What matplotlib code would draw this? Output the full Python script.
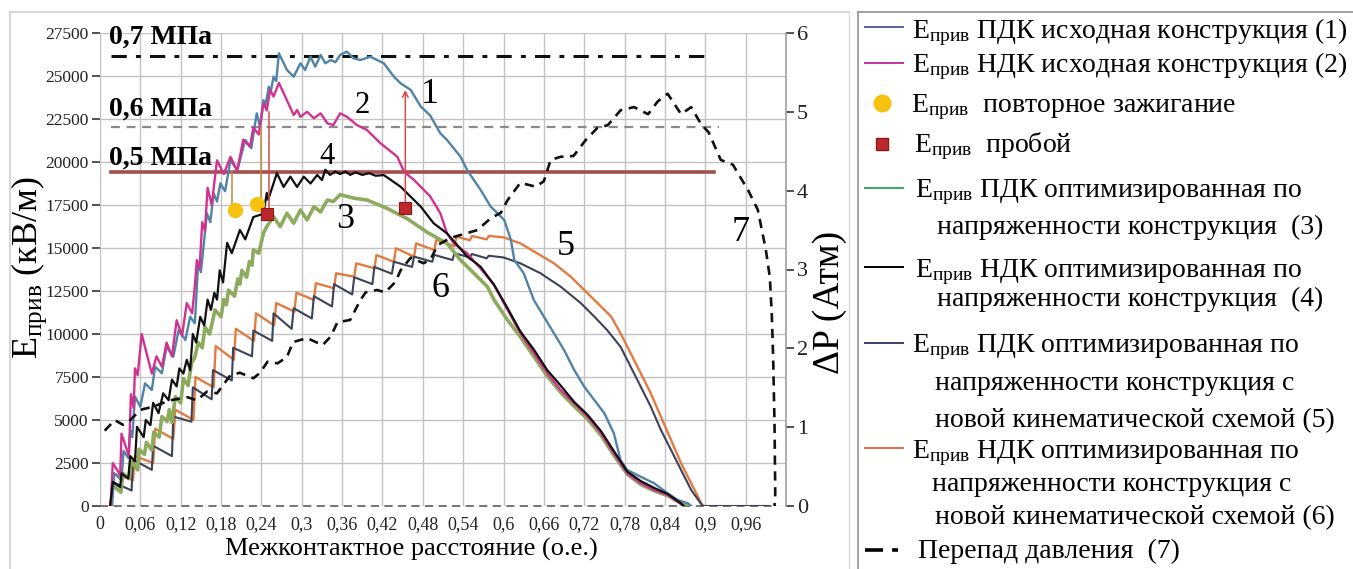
import matplotlib
matplotlib.use('Agg')
import matplotlib.pyplot as plt
from matplotlib.lines import Line2D

plt.rcParams['font.family'] = ['Liberation Serif', 'DejaVu Serif']
plt.rcParams['mathtext.fontset'] = 'custom'
plt.rcParams['mathtext.rm'] = 'Liberation Serif'
plt.rcParams['mathtext.it'] = 'Liberation Serif:italic'
plt.rcParams['mathtext.bf'] = 'Liberation Serif:bold'

# ---------------- data ----------------
x_ticks = [0, 0.06, 0.12, 0.18, 0.24, 0.30, 0.36, 0.42, 0.48, 0.54, 0.60, 0.66,
           0.72, 0.78, 0.84, 0.90, 0.96, 1.02]
x_tick_labels = ['0', '0,06', '0,12', '0,18', '0,24', '0,3', '0,36', '0,42', '0,48',
                 '0,54', '0,6', '0,66', '0,72', '0,78', '0,84', '0,9', '0,96', '']
y_ticks = [0, 2500, 5000, 7500, 10000, 12500, 15000, 17500, 20000, 22500, 25000, 27500]
y2_ticks = [0, 1, 2, 3, 4, 5, 6]

# (1) ПДК исходная
c1_x = [0.018,0.021,0.032,0.035,0.042,0.045,0.048,0.052,0.060,0.067,
        0.077,0.082,0.092,0.099,0.109,0.117,0.127,0.134,0.141,0.146,
        0.150,0.159,0.164,0.169,0.174,0.179,0.186,0.194,0.204,0.216,
        0.225,0.233,0.238,0.243,0.246,0.251,0.254,0.258,0.262,0.266,
        0.278,0.288,0.298,0.305,0.313,0.320,0.328,0.335,0.343,0.350,
        0.357,0.367,0.377,0.387,0.402,0.412,0.422,0.437,0.447,0.462,
        0.477,0.491,0.506,0.516,0.536,0.546,0.566,0.581,0.591,0.601,
        0.611,0.616,0.630,0.645,0.660,0.675,0.690,0.705,0.720,0.735,
        0.750,0.764,0.774,0.784,0.804,0.824,0.844,0.859,0.874,0.879]
c1_y = [0,1900,1500,3200,2800,4400,4000,6360,5770,7130,
        6740,8100,7720,9260,8680,10230,9650,11000,10620,14110,
        13600,17020,16500,18180,17700,18760,18300,20120,19500,21280,
        20800,22830,22050,23600,23300,24380,24100,24960,24700,26320,
        25350,24960,25740,25350,26120,25540,26220,25740,25930,25800,
        26220,26420,26030,25930,26120,25930,25740,24960,24570,24190,
        23220,22700,21670,21280,20310,19530,18370,17400,17020,16630,
        15470,14300,13530,11980,11010,10040,9070,7910,6940,6160,
        5390,4230,2670,2090,1700,1320,740,350,160,0]

# (2) НДК исходная
c2_x = [0.016,0.019,0.030,0.032,0.043,0.046,0.050,0.052,0.056,0.062,
        0.077,0.084,0.092,0.099,0.107,0.114,0.122,0.129,0.137,0.141,
        0.144,0.148,0.152,0.156,0.160,0.166,0.174,0.184,0.194,0.204,
        0.213,0.223,0.228,0.236,0.243,0.248,0.253,0.258,0.266,0.288,
        0.293,0.298,0.308,0.318,0.328,0.338,0.347,0.357,0.367,0.382,
        0.397,0.417,0.442,0.452,0.467,0.491,0.506,0.516,0.526,0.546,
        0.566,0.586,0.606,0.625,0.645,0.665,0.685,0.705,0.725,0.745,
        0.764,0.784,0.804,0.824,0.844,0.864,0.866]
c2_y = [0,2500,1800,4200,2900,6500,5700,8000,7600,10000,
        7700,8700,8100,9500,8700,10800,9900,11800,11200,12800,
        14300,13800,16500,16000,18500,17500,20100,19300,20300,19500,
        21300,20900,22000,21600,23400,23000,24200,23800,24600,22730,
        23020,22630,22920,22540,22830,22250,22150,22830,22630,22150,
        21860,21090,20310,19440,18950,18000,17020,15850,15270,14690,
        13800,12850,11400,10050,8900,7720,6740,5970,5190,4230,
        3060,1900,1320,930,640,120,0]

# (3) ПДК оптимизированная
c3_x = [0.016,0.019,0.031,0.034,0.043,0.046,0.056,0.058,0.066,0.069,
        0.077,0.080,0.088,0.092,0.100,0.103,0.107,0.112,0.120,0.124,
        0.131,0.136,0.141,0.146,0.152,0.156,0.163,0.171,0.180,0.184,
        0.188,0.191,0.200,0.205,0.208,0.211,0.218,0.222,0.226,0.228,
        0.236,0.243,0.248,0.258,0.268,0.278,0.288,0.298,0.308,0.318,
        0.328,0.338,0.347,0.357,0.367,0.377,0.397,0.427,0.457,0.487,
        0.516,0.536,0.556,0.576,0.586,0.606,0.625,0.645,0.665,0.685,
        0.705,0.725,0.745,0.764,0.784,0.804,0.824,0.844,0.864,0.874]
c3_y = [0,1200,800,1900,1600,2600,2100,3300,3000,3700,
        3250,4300,4000,5200,4900,5600,4850,6350,6000,7400,
        7000,8300,8650,9500,9200,10400,10000,11400,11000,12000,
        11700,12550,12200,13200,12900,13700,13300,14200,14000,14900,
        14700,15850,16250,16820,16240,17020,16440,17210,16630,17400,
        17100,17790,17700,18100,18000,17900,17790,17300,16700,15900,
        15270,14300,13530,12750,11980,10810,9840,8700,7550,6600,
        5800,5050,4100,2950,1850,1250,880,600,150,0]

# (4) НДК оптимизированная
c4_x = [0.015,0.019,0.030,0.032,0.042,0.045,0.052,0.055,0.065,0.068,
        0.075,0.079,0.087,0.094,0.102,0.107,0.114,0.118,0.124,0.129,
        0.134,0.138,0.143,0.149,0.155,0.160,0.165,0.170,0.174,0.178,
        0.183,0.189,0.196,0.208,0.216,0.228,0.236,0.243,0.248,0.250,
        0.263,0.273,0.283,0.293,0.303,0.313,0.323,0.330,0.335,0.342,
        0.350,0.357,0.365,0.372,0.380,0.390,0.400,0.410,0.422,0.447,
        0.477,0.496,0.516,0.546,0.566,0.586,0.606,0.625,0.645,0.665,
        0.685,0.705,0.725,0.745,0.764,0.784,0.804,0.824,0.844,0.864,0.868]
c4_y = [0,1400,1100,1900,1600,2900,2600,4600,4000,5000,
        4700,6000,5400,6550,6150,7350,6950,8000,7700,8500,
        7900,10000,9500,11000,10500,12000,11400,12400,12000,13700,
        13000,15300,14700,16050,15500,16800,16900,17000,18200,17800,
        19350,18550,19150,18550,19150,18750,19250,18950,19550,19250,
        19450,19300,19450,19250,19400,19250,19350,19200,19240,18560,
        17400,16440,15850,14500,13910,12850,11500,10150,9100,7900,
        7000,6050,5300,4350,3200,2000,1450,1050,700,150,0]

# (5) ПДК новая кинематика
c5_x = [0.016,0.019,0.047,0.049,0.077,0.079,0.107,0.109,0.136,0.138,
        0.166,0.168,0.196,0.198,0.226,0.228,0.256,0.258,0.285,0.288,
        0.315,0.318,0.345,0.348,0.375,0.378,0.405,0.408,0.434,0.437,
        0.464,0.467,0.494,0.497,0.524,0.527,0.550,0.553,0.575,0.578,
        0.600,0.625,0.655,0.685,0.715,0.735,0.754,0.774,0.789,0.804,
        0.819,0.834,0.849,0.864,0.879,0.896,0.995]
c5_y = [0,1400,900,2700,2100,3500,2900,5200,4900,6900,
        6200,7900,7300,9200,8700,10200,9600,11200,10300,11500,
        10900,12200,11600,12900,12300,13300,12900,13900,13500,14200,
        13900,14500,14200,14600,14300,14700,14450,14650,14400,14550,
        14450,14110,13530,12750,11790,11010,10230,9260,8100,6940,
        5770,4420,3260,2090,930,0,0]

# (6) НДК новая кинематика
c6_x = [0.016,0.019,0.049,0.052,0.079,0.082,0.109,0.112,0.139,0.142,
        0.169,0.172,0.199,0.202,0.229,0.232,0.259,0.262,0.289,0.292,
        0.318,0.321,0.348,0.351,0.378,0.381,0.408,0.411,0.437,0.440,
        0.467,0.470,0.497,0.500,0.527,0.530,0.550,0.553,0.575,0.578,
        0.600,0.625,0.650,0.675,0.700,0.720,0.740,0.760,0.774,0.789,
        0.804,0.819,0.834,0.849,0.864,0.879,0.894,0.897]
c6_y = [0,1900,1500,2900,2500,4500,3900,5600,5000,7500,
        6900,9300,8500,10300,9600,11200,10500,11800,11300,12400,
        11980,12950,12660,13530,13330,14110,13820,14590,14200,14980,
        14500,15270,14880,15470,15100,15660,15450,15700,15500,15700,
        15620,15270,14690,14110,13330,12560,11790,11010,10040,8880,
        7720,6550,5190,3840,2480,1320,160,0]

# (7) перепад давления, атм
c7_x = [0.007,0.022,0.034,0.045,0.060,0.079,0.104,0.130,0.144,0.159,
        0.174,0.194,0.208,0.228,0.238,0.249,0.264,0.278,0.287,0.308,
        0.331,0.343,0.353,0.372,0.387,0.395,0.412,0.424,0.439,0.447,
        0.462,0.481,0.491,0.502,0.521,0.541,0.561,0.581,0.596,0.606,
        0.625,0.648,0.660,0.670,0.685,0.704,0.722,0.740,0.755,0.774,
        0.794,0.815,0.829,0.844,0.864,0.879,0.894,0.905,0.923,0.941,
        0.964,0.978,0.990,0.996,0.999,1.001,1.003,1.004,1.003]
c7_y = [0.955,1.09,1.03,1.09,1.22,1.26,1.34,1.38,1.34,1.45,
        1.43,1.66,1.69,1.62,1.69,1.83,1.81,1.89,2.08,2.13,
        2.04,2.15,2.33,2.36,2.61,2.71,2.74,2.71,2.84,2.99,
        3.15,3.08,3.12,3.31,3.40,3.45,3.50,3.65,3.72,3.88,
        4.10,4.05,4.12,4.39,4.43,4.44,4.64,4.80,4.83,5.02,
        5.06,4.97,5.13,5.23,4.97,5.06,4.84,4.74,4.39,4.33,
        4.00,3.76,3.25,2.90,2.40,1.85,1.00,0.16,0.0]

zero_line_x = [0.0, 1.0]
zero_line_y = [0, 0]

ref_levels = [26150, 22050, 19400]
ref_x_start = [0.016, 0.016, 0.016]
ref_x_end = [0.905, 0.920, 0.913]
ref_texts = ['0,7 МПа', '0,6 МПа', '0,5 МПа']
ref_text_y = [27250, 23050, 20250]

reignite_x = [0.200, 0.233]
reignite_y = [17200, 17550]
breakdown_x = [0.248, 0.454]
breakdown_y = [16950, 17300]

conn_x = [0.197, 0.239, 0.251]
conn_y0 = [17300, 17550, 16950]
conn_y1 = [19450, 22100, 22900]
conn_colors = ['#b8893c', '#c08a34', '#d44a4a']
arrow_x = 0.454
arrow_y0 = 17300
arrow_y1 = 24350

curve_labels = ['1', '2', '3', '4', '5', '6', '7']
curve_label_x = [0.491, 0.390, 0.365, 0.338, 0.693, 0.506, 0.952]
curve_label_y = [23900, 23300, 16630, 20310, 15080, 12660, 15900]
curve_label_size = [26, 22, 26, 22, 26, 26, 26]

# ---------------- figure ----------------
W, H = 1353, 569
fig = plt.figure(figsize=(W / 100, H / 100), dpi=100)

# outer frame of the chart area
fig.add_artist(Line2D([10 / W, 849 / W], [1 - 12 / H, 1 - 12 / H], color='#cfcfcf', lw=1.2))
fig.add_artist(Line2D([10 / W, 10 / W], [0, 1 - 12 / H], color='#cfcfcf', lw=1.2))
fig.add_artist(Line2D([849 / W, 849 / W], [0, 1 - 12 / H], color='#dcdcdc', lw=1.0))

ax = fig.add_axes([100 / W, 63 / H, 686 / W, 473 / H])
ax.set_xlim(0, 1.02)
ax.set_ylim(0, 27500)
ax.set_xticks(x_ticks)
ax.set_xticklabels(x_tick_labels, fontsize=13)
ax.set_yticks(y_ticks)
ax.set_yticklabels([str(v) for v in y_ticks], fontsize=12.5)
ax.grid(True, color='#c2c2c2', lw=1.0)
ax.set_axisbelow(True)
for s in ax.spines.values():
    s.set_visible(False)
ax.tick_params(axis='x', length=0, pad=7, colors='#222')
ax.tick_params(axis='y', length=6, width=1.3, color='#444', pad=2, labelcolor='#222')

# reference pressure lines
ref_styles = [dict(color='#111111', lw=2.2, ls=(0, (5, 3, 1.6, 3))),
              dict(color='#8a8a8a', lw=1.6, ls=(0, (4, 3))),
              dict(color='#a24f4e', lw=2.6, ls='-')]
for lvl, xs, xe, st in zip(ref_levels, ref_x_start, ref_x_end, ref_styles):
    ax.plot([xs, xe], [lvl, lvl], zorder=2, **st)
for txt, ty in zip(ref_texts, ref_text_y):
    ax.text(0.013, ty, txt, fontsize=20, fontweight='bold', ha='left', va='center', zorder=6)

ax.plot(zero_line_x, zero_line_y, color='#6a6a6a', lw=1.3, ls=(0, (4.5, 3)), zorder=2, clip_on=False)

# curves
ax.plot(c6_x, c6_y, color='#e27b42', lw=1.7, zorder=3)
ax.plot(c5_x, c5_y, color='#3c4258', lw=1.5, zorder=3)
ax.plot(c3_x, c3_y, color='#8dab5c', lw=2.6, zorder=3)
ax.plot(c1_x, c1_y, color='#4f83a7', lw=1.7, zorder=3)
ax.plot(c2_x, c2_y, color='#d2328f', lw=1.7, zorder=3)
ax.plot(c4_x, c4_y, color='#101010', lw=1.6, zorder=3)

# connectors and arrow
for cx, a, b, col in zip(conn_x, conn_y0, conn_y1, conn_colors):
    ax.plot([cx, cx], [a, b], color=col, lw=1.1, zorder=4)
ax.annotate('', xy=(arrow_x, arrow_y1), xytext=(arrow_x, arrow_y0),
            arrowprops=dict(arrowstyle='->', color='#d44a4a', lw=1.1), zorder=4)

# markers
ax.plot(reignite_x, reignite_y, 'o', ms=11, color='#f6c20f', mec='none', zorder=5)
ax.plot(breakdown_x, breakdown_y, 's', ms=9, color='#c0272d', mec='#8a1a1a', mew=0.8, zorder=5)

for t, lx, ly, fs in zip(curve_labels, curve_label_x, curve_label_y, curve_label_size):
    ax.text(lx, ly, t, fontsize=fs, ha='center', va='center', zorder=6)

# right axis
ax2 = ax.twinx()
ax2.set_ylim(0, 6)
ax2.set_yticks(y2_ticks)
ax2.set_yticklabels([str(v) for v in y2_ticks], fontsize=16)
for k, s in ax2.spines.items():
    s.set_visible(k == 'right')
ax2.spines['right'].set_color('#a0a0a0')
ax2.spines['right'].set_linewidth(1.2)
ax2.tick_params(axis='y', length=6, width=1.3, color='#444', pad=2, labelcolor='#222')
ax2.plot(c7_x, c7_y, color='#111111', lw=1.9, ls=(0, (3.5, 2.5)), zorder=3)

# axis titles
fig.text(29 / W, 1 - 268 / H, r'$\mathrm{E}_{\mathrm{прив}}$ (кВ/м)', rotation=90,
         fontsize=26, ha='center', va='center')
fig.text(830 / W, 1 - 302 / H, 'ΔP (Атм)', rotation=90, fontsize=27, ha='center', va='center')
fig.text(411 / W, 1 - 549 / H, 'Межконтактное расстояние (о.е.)', fontsize=19,
         ha='center', va='center')

# ---------------- legend (manual) ----------------
lax = fig.add_axes([858 / W, 0, 495 / W, 557 / H])
lax.set_xlim(0, 495)
lax.set_ylim(557, 0)
lax.set_xticks([])
lax.set_yticks([])
lax.patch.set_alpha(0)
for k, s in lax.spines.items():
    s.set_visible(k in ('left', 'top'))
    s.set_color('#9a9a9a')
    s.set_linewidth(1.3)

E = r'$\mathrm{E}_{\mathrm{прив}}$'
leg_rows = [
    ('line', '#5a60a8', 15, 54, 26, E + ' ПДК исходная конструкция (1)'),
    ('line', '#c433a0', 51, 54, 60, E + ' НДК исходная конструкция (2)'),
    ('circle', '#f6c20f', 91, 53, 100, E + '  повторное зажигание'),
    ('square', '#c0272d', 132, 56, 140, E + '  пробой'),
    ('line', '#35a86a', 176, 57, 185, E + ' ПДК оптимизированная по'),
    (None, None, 0, 79, 222, 'напряженности конструкция  (3)'),
    ('line', '#000000', 255, 57, 265, E + ' НДК оптимизированная по'),
    (None, None, 0, 79, 294, 'напряженности конструкция  (4)'),
    ('line', '#3a3f6c', 331, 54, 340, E + ' ПДК оптимизированная по'),
    (None, None, 0, 77, 378, 'напряженности конструкция с'),
    (None, None, 0, 77, 415, 'новой кинематической схемой (5)'),
    ('line', '#d9733c', 436, 54, 446, E + ' НДК оптимизированная по'),
    (None, None, 0, 74, 479, 'напряженности конструкция с'),
    (None, None, 0, 77, 512, 'новой кинематической схемой (6)'),
    ('dash', '#000000', 538, 60, 546, 'Перепад давления  (7)'),
]
for kind, col, hy, tx, ty, txt in leg_rows:
    if kind == 'line':
        lax.plot([7, 45], [hy, hy], color=col, lw=1.4)
    elif kind == 'circle':
        lax.plot([24], [hy], 'o', ms=13, color=col, mec='none')
    elif kind == 'square':
        lax.plot([24], [hy], 's', ms=9, color=col, mec='#8a1a1a')
    elif kind == 'dash':
        lax.plot([7, 40], [hy, hy], color=col, lw=2.6, ls=(0, (5, 2.5)))
    lax.text(tx, ty, txt, fontsize=20, ha='left', va='baseline', clip_on=False)

fig.savefig('out.png', dpi=100)
